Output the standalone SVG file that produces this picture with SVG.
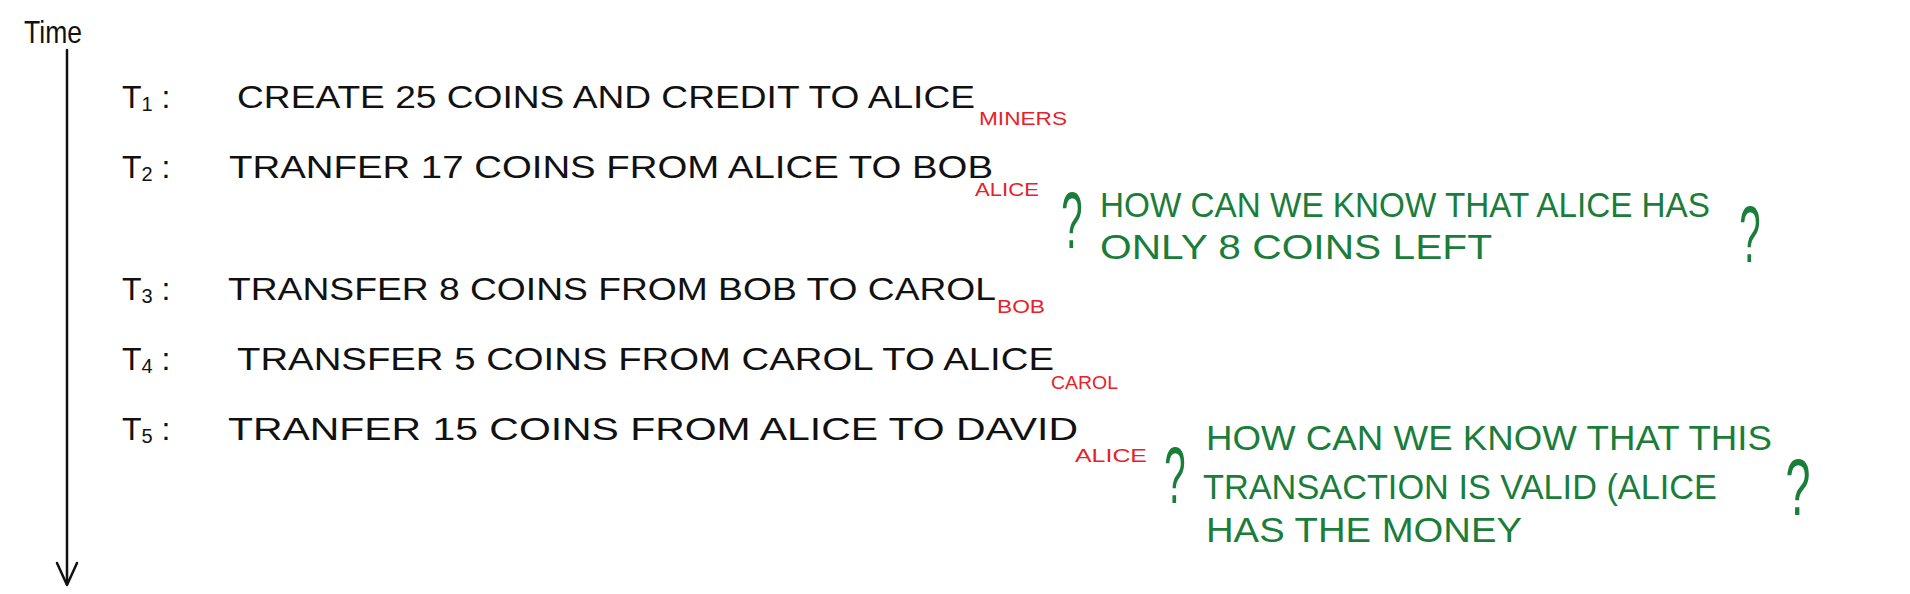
<svg xmlns="http://www.w3.org/2000/svg" width="1910" height="594" viewBox="0 0 1910 594">
<style>
text{font-family:"Liberation Sans","DejaVu Sans",sans-serif;}
.k{fill:#111;font-size:32px;}
.sub{font-size:20px;}
.r{fill:#e8202a;font-size:18px;}
.g{fill:#1a7d3a;font-size:35px;}
.q{fill:#1a7d3a;font-size:64px;text-anchor:middle;}
.ax{stroke:#111;stroke-width:2.5;fill:none;stroke-linecap:round;stroke-linejoin:round;}
</style>
<rect width="1910" height="594" fill="#fff"/>
<g id="connectors">
<path class="ax" d="M67 50 V584"/>
<path class="ax" d="M57 563 L67 585 L77 563"/>
</g>
<g id="time"><text class="k" x="24" y="43" font-size="26" textLength="58" lengthAdjust="spacingAndGlyphs">Time</text></g>
<g id="t1">
<text class="k" x="122" y="108">T<tspan class="sub" dy="3">1</tspan><tspan dy="-3">  :</tspan></text>
<text class="k" x="237" y="108" textLength="738" lengthAdjust="spacingAndGlyphs">CREATE 25 COINS AND CREDIT TO ALICE</text>
<text class="r" x="979" y="125" textLength="88" lengthAdjust="spacingAndGlyphs">MINERS</text>
</g>
<g id="t2">
<text class="k" x="122" y="178">T<tspan class="sub" dy="3">2</tspan><tspan dy="-3">  :</tspan></text>
<text class="k" x="229" y="178" textLength="764" lengthAdjust="spacingAndGlyphs">TRANFER 17 COINS FROM ALICE TO BOB</text>
<text class="r" x="975" y="196" textLength="64" lengthAdjust="spacingAndGlyphs">ALICE</text>
</g>
<g id="t3">
<text class="k" x="122" y="300">T<tspan class="sub" dy="3">3</tspan><tspan dy="-3"> :</tspan></text>
<text class="k" x="228" y="300" textLength="768" lengthAdjust="spacingAndGlyphs">TRANSFER 8 COINS FROM BOB TO CAROL</text>
<text class="r" x="997" y="313" textLength="48" lengthAdjust="spacingAndGlyphs">BOB</text>
</g>
<g id="t4">
<text class="k" x="122" y="370">T<tspan class="sub" dy="3">4</tspan><tspan dy="-3">  :</tspan></text>
<text class="k" x="237" y="370" textLength="817" lengthAdjust="spacingAndGlyphs">TRANSFER 5 COINS FROM CAROL TO ALICE</text>
<text class="r" x="1051" y="389" textLength="67" lengthAdjust="spacingAndGlyphs">CAROL</text>
</g>
<g id="t5">
<text class="k" x="122" y="440">T<tspan class="sub" dy="3">5</tspan><tspan dy="-3">  :</tspan></text>
<text class="k" x="228" y="440" textLength="850" lengthAdjust="spacingAndGlyphs">TRANFER 15 COINS FROM ALICE TO DAVID</text>
<text class="r" x="1075" y="462" textLength="72" lengthAdjust="spacingAndGlyphs">ALICE</text>
</g>
<g id="note1">
<text class="q" transform="translate(1072 248) scale(0.6 1.25)">?</text>
<text class="g" x="1100" y="217" textLength="610" lengthAdjust="spacingAndGlyphs">HOW CAN WE KNOW THAT ALICE HAS</text>
<text class="g" x="1100" y="259" textLength="392" lengthAdjust="spacingAndGlyphs">ONLY 8 COINS LEFT</text>
<text class="q" transform="translate(1750 262) scale(0.6 1.25)">?</text>
</g>
<g id="note2">
<text class="q" transform="translate(1175 503) scale(0.6 1.25)">?</text>
<text class="g" x="1206" y="450" textLength="566" lengthAdjust="spacingAndGlyphs">HOW CAN WE KNOW THAT THIS</text>
<text class="g" x="1203" y="499" textLength="514" lengthAdjust="spacingAndGlyphs">TRANSACTION IS VALID (ALICE</text>
<text class="g" x="1206" y="542" textLength="316" lengthAdjust="spacingAndGlyphs">HAS THE MONEY</text>
<text class="q" transform="translate(1798 515) scale(0.7 1.25)">?</text>
</g>
</svg>
